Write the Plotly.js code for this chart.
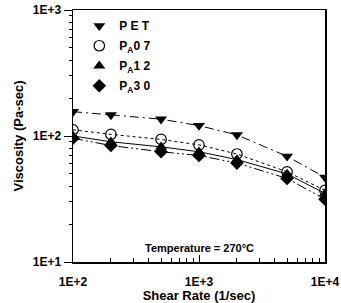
<!DOCTYPE html>
<html><head><meta charset="utf-8">
<script src="https://cdn.plot.ly/plotly-3.0.1.min.js"></script>
<style>html,body{margin:0;padding:0;background:#fff}#c{width:341px;height:303px}</style>
</head><body><div id="c"></div>
<script>
const shearRate = [100, 200, 500, 1000, 2000, 5000, 10000];
const viscPET  = [156, 147, 136, 121, 102, 69, 47];
const viscPA07 = [112, 103, 94, 85, 72, 52, 37];
const viscPA12 = [100, 90, 82, 75, 65, 50, 35];
const viscPA30 = [96, 84, 75, 70, 61, 46, 31.5];
const seriesNames = ["P E T", "P<sub>A</sub>0 7", "P<sub>A</sub>1 2", "P<sub>A</sub>3 0"];
const tickAlias = {"10": "1E+1", "100": "1E+2", "1000": "1E+3", "10000": "1E+4", "1k": "1E+3", "10k": "1E+4"};

const F = "Liberation Sans, Arial, sans-serif";
const series = [
  {y: viscPET, sym: "triangle-down", dash: "9px,4px,2px,4px"},
  {y: viscPA07, sym: "circle-open", dash: "3px,3px"},
  {y: viscPA12, sym: "triangle-up", dash: "solid"},
  {y: viscPA30, sym: "diamond", dash: "10px,3px,2px,3px,2px,3px"}
];
const data = [];
series.forEach((s, i) => {
  const marker = {symbol: s.sym, size: 10.5, color: "#000",
                  line: {color: "#000", width: s.sym === "circle-open" ? 1.2 : 0}};
  data.push({x: shearRate, y: s.y, type: "scatter", mode: "lines", showlegend: false,
             line: {color: "#000", width: 1, dash: s.dash}, hoverinfo: "skip"});
  data.push({x: shearRate, y: s.y, type: "scatter", mode: "markers", name: seriesNames[i],
             legendgroup: "g" + i, marker: marker});
});

const layout = {
  width: 341, height: 303,
  margin: {l: 73, r: 16, t: 10, b: 41},
  paper_bgcolor: "#fff", plot_bgcolor: "#fff",
  font: {family: F, color: "#000"},
  showlegend: true,
  legend: {x: 0.025, y: 0.995, xanchor: "left", yanchor: "top",
           bgcolor: "rgba(0,0,0,0)", font: {family: F, size: 12, weight: "bold"},
           tracegroupgap: 1, itemwidth: 30},
  xaxis: {type: "log", range: [2, 4], tickmode: "linear", tick0: 0, dtick: 1,
          exponentformat: "E", labelalias: tickAlias,
          ticks: "inside", ticklen: 7, tickwidth: 1, tickcolor: "#000",
          showline: true, linecolor: "#000", linewidth: 1.5, mirror: true,
          showgrid: false, zeroline: false, ticklabelstandoff: 8,
          minor: {ticks: "inside", ticklen: 4, tickcolor: "#000", dtick: "D1"},
          tickfont: {family: F, size: 12, weight: "bold"},
          title: {text: "Shear Rate (1/sec)", font: {family: F, size: 13, weight: "bold"}, standoff: 0}},
  yaxis: {type: "log", range: [1, 3], tickmode: "linear", tick0: 0, dtick: 1,
          exponentformat: "E", labelalias: tickAlias,
          ticks: "outside", ticklen: 8, tickwidth: 1, tickcolor: "#000",
          showline: true, linecolor: "#000", linewidth: 1.5, mirror: true,
          showgrid: false, zeroline: false,
          minor: {ticks: "outside", ticklen: 3, tickcolor: "#000", dtick: "D1"},
          tickfont: {family: F, size: 12, weight: "bold"},
          title: {text: "Viscosity (Pa-sec)", font: {family: F, size: 13, weight: "bold"}, standoff: 6}},
  annotations: [{xref: "paper", yref: "paper", x: 0.5, y: 0.055, xanchor: "center", yanchor: "middle",
                 showarrow: false, text: "Temperature = 270°C",
                 font: {family: F, size: 11, weight: "bold"}}]
};
Plotly.newPlot("c", data, layout, {displayModeBar: false, staticPlot: true});
</script></body></html>
